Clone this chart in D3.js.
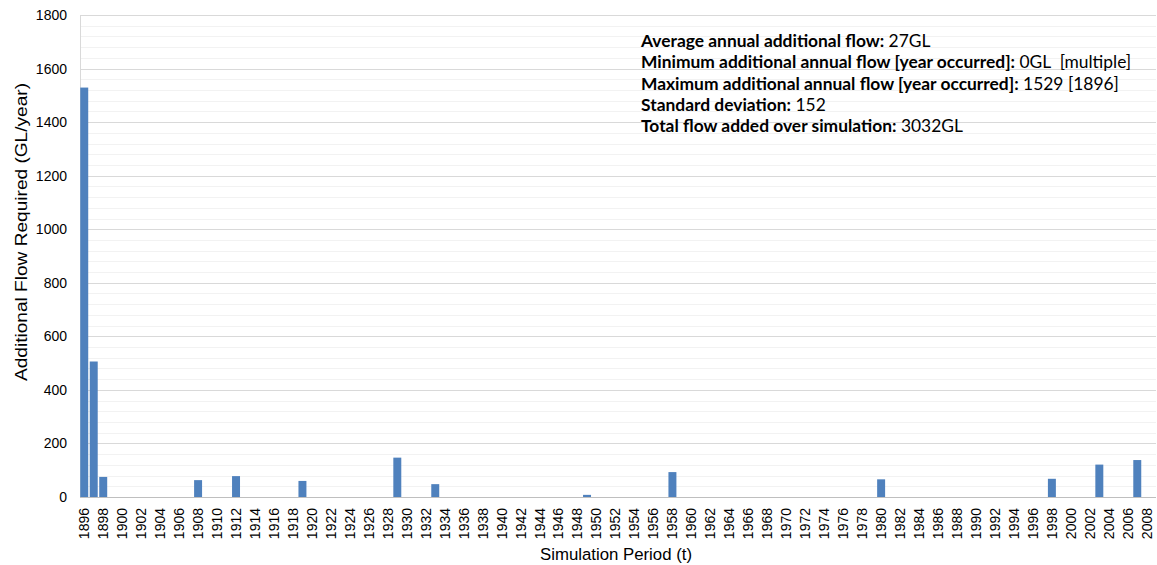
<!DOCTYPE html>
<html>
<head>
<meta charset="utf-8">
<script src="https://cdn.jsdelivr.net/npm/d3@7"></script>
<style>
  body { margin: 0; background: #fff; }
  svg { display: block; }
</style>
</head>
<body>
<script>
// ---- data ----
const years = d3.range(1896, 2009); // categories 1896..2008
const flowValues = [
  1529, 506, 75, 0, 0, 0, 0, 0, 0, 0,      // 1896-1905
  0, 0, 63, 0, 0, 0, 78, 0, 0, 0,          // 1906-1915
  0, 0, 0, 60, 0, 0, 0, 0, 0, 0,           // 1916-1925
  0, 0, 0, 147, 0, 0, 0, 48, 0, 0,         // 1926-1935
  0, 0, 0, 0, 0, 0, 0, 0, 0, 0,            // 1936-1945
  0, 0, 0, 8, 0, 0, 0, 0, 0, 0,            // 1946-1955
  0, 0, 93, 0, 0, 0, 0, 0, 0, 0,           // 1956-1965
  0, 0, 0, 0, 0, 0, 0, 0, 0, 0,            // 1966-1975
  0, 0, 0, 0, 66, 0, 0, 0, 0, 0,           // 1976-1985
  0, 0, 0, 0, 0, 0, 0, 0, 0, 0,            // 1986-1995
  0, 0, 68, 0, 0, 0, 0, 121, 0, 0,         // 1996-2005
  0, 138, 0                                // 2006-2008
];
const yTicks = [0, 200, 400, 600, 800, 1000, 1200, 1400, 1600, 1800];
const xTickLabels = years.filter((y, i) => i % 2 === 0);
const statLines = [
  ["Average annual additional flow:", " 27GL"],
  ["Minimum additional annual flow [year occurred]:", " 0GL  [multiple]"],
  ["Maximum additional annual flow [year occurred]:", " 1529 [1896]"],
  ["Standard deviation:", " 152"],
  ["Total flow added over simulation:", " 3032GL"]
];
const yTitle = "Additional Flow Required (GL/year)";
const xTitle = "Simulation Period (t)";

// ---- layout ----
const W = 1157, H = 565;
const mLeft = 80, mRight = 1156, mTop = 15, mBottom = 497;
const FONT = "'Liberation Sans', Arial, sans-serif";

const svg = d3.select("body").append("svg").attr("width", W).attr("height", H);

const x = d3.scaleBand().domain(years).range([79.5, 1151.5]).paddingInner(0.16).paddingOuter(0.08);
const y = d3.scaleLinear().domain([0, 1800]).range([mBottom, mTop]);

// minor gridlines
svg.append("g").selectAll("line")
  .data(d3.range(40, 1800, 40).filter(v => v % 200 !== 0))
  .join("line")
  .attr("x1", mLeft).attr("x2", mRight)
  .attr("y1", d => Math.round(y(d)) + 0.5).attr("y2", d => Math.round(y(d)) + 0.5)
  .attr("stroke", "#f2f2f2").attr("stroke-width", 1);

// major gridlines
svg.append("g").selectAll("line")
  .data(yTicks.filter(v => v > 0))
  .join("line")
  .attr("x1", mLeft).attr("x2", mRight)
  .attr("y1", d => Math.round(y(d)) + 0.5).attr("y2", d => Math.round(y(d)) + 0.5)
  .attr("stroke", "#d9d9d9").attr("stroke-width", 1);

// y axis
const yAxis = svg.append("g").attr("transform", `translate(${mLeft},0)`)
  .call(d3.axisLeft(y).tickValues(yTicks).tickSize(0).tickPadding(13).tickFormat(d3.format("d")));
yAxis.attr("font-family", FONT);
yAxis.select(".domain").attr("stroke", "#d9d9d9");
yAxis.selectAll("text").attr("font-size", 14).attr("fill", "#000");

// bars
svg.append("g").selectAll("rect")
  .data(years.map((yr, i) => ({ yr, v: flowValues[i] })).filter(d => d.v > 0))
  .join("rect")
  .attr("x", d => x(d.yr))
  .attr("width", x.bandwidth())
  .attr("y", d => y(d.v))
  .attr("height", d => y(0) - y(d.v))
  .attr("fill", "#4f81bd");

// x axis
const xAxis = svg.append("g").attr("transform", `translate(0,${mBottom})`)
  .call(d3.axisBottom(x).tickValues(xTickLabels).tickSize(0).tickPadding(0));
xAxis.attr("font-family", FONT);
xAxis.select(".domain").attr("stroke", "#bfbfbf").attr("d", `M${mLeft},0.5H${mRight}`);
xAxis.selectAll("text")
  .attr("font-size", 14).attr("fill", "#000")
  .attr("transform", "rotate(-90)")
  .attr("text-anchor", "end")
  .attr("x", -11).attr("y", 0).attr("dy", "0.35em");

// axis titles
svg.append("text")
  .attr("transform", `translate(27,232) rotate(-90)`)
  .attr("text-anchor", "middle")
  .attr("font-family", FONT)
  .attr("font-size", 16).attr("fill", "#000")
  .attr("textLength", 298).attr("lengthAdjust", "spacingAndGlyphs")
  .text(yTitle);

svg.append("text")
  .attr("x", 616).attr("y", 560)
  .attr("text-anchor", "middle")
  .attr("font-family", FONT)
  .attr("font-size", 16.8).attr("fill", "#000")
  .text(xTitle);

// stats annotation
const ann = svg.append("g").attr("font-family", "Lato, 'Open Sans', sans-serif").attr("font-size", 17.4).attr("fill", "#000");
statLines.forEach((ln, i) => {
  const t = ann.append("text").attr("x", 641).attr("y", 47 + i * 21.3);
  t.append("tspan").attr("font-weight", "bold").text(ln[0]);
  t.append("tspan").attr("font-weight", "normal").style("white-space", "pre").text(ln[1]);
});
</script>
</body>
</html>
